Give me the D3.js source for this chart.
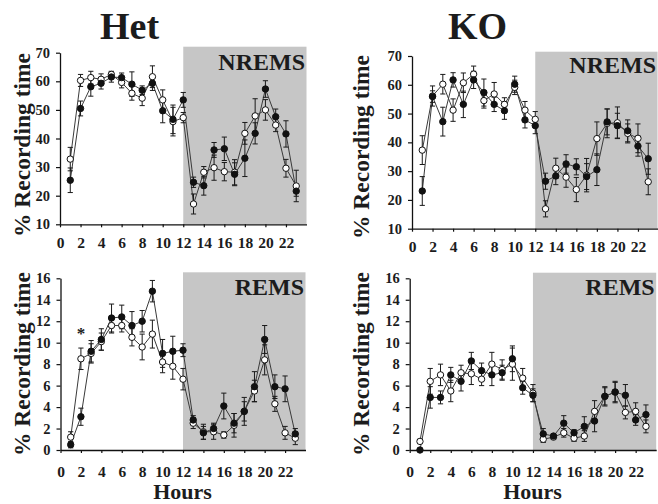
<!DOCTYPE html>
<html>
<head>
<meta charset="utf-8">
<script src="https://cdn.jsdelivr.net/npm/d3@7/dist/d3.min.js"></script>
<style>
  html, body { margin: 0; padding: 0; background: #fff; }
  svg { display: block; }
  text { font-family: "Liberation Serif", "Times New Roman", serif; font-weight: bold; fill: #1c1c1c; }
</style>
</head>
<body>
<svg id="chart" width="658" height="504"></svg>
<script>
// Hour of day (x categories) and axis tick labels
const hours = [1, 2, 3, 4, 5, 6, 7, 8, 9, 10, 11, 12, 13, 14, 15, 16, 17, 18, 19, 20, 21, 22, 23];
const hourTicks = [0, 2, 4, 6, 8, 10, 12, 14, 16, 18, 20, 22];
const nremsTicks = [10, 20, 30, 40, 50, 60, 70];
const remsTicks = [0, 2, 4, 6, 8, 10, 12, 14, 16];

// Het – NREMS (% recording time, mean and SEM)
const hetNremsFilled    = [25.4, 50.5, 58.1, 59.3, 61.5, 61.3, 59.0, 56.9, 59.3, 49.7, 46.7, 53.5, 24.7, 23.5, 36.0, 36.4, 27.5, 33.1, 41.8, 57.3, 47.6, 41.6, 21.6];
const hetNremsFilledErr = [4.3, 2.6, 3.3, 2.0, 1.8, 1.6, 4.3, 1.5, 2.5, 4.2, 5.0, 2.6, 1.8, 3.3, 2.6, 4.1, 4.0, 6.4, 3.7, 2.9, 2.7, 4.6, 1.8];
const hetNremsOpen      = [32.8, 60.3, 61.3, 60.7, 62.4, 59.6, 55.8, 54.1, 61.6, 53.5, 45.9, 47.3, 17.1, 28.2, 29.8, 28.4, 28.2, 41.8, 47.9, 50.0, 44.7, 29.6, 23.4];
const hetNremsOpenErr   = [4.1, 2.1, 2.2, 1.9, 1.1, 1.9, 2.4, 2.6, 3.8, 3.5, 5.0, 1.8, 3.5, 2.0, 4.4, 3.2, 4.4, 3.8, 6.0, 3.6, 2.3, 3.1, 5.5];

// KO – NREMS
const koNremsFilled    = [23.1, 55.9, 47.2, 61.7, 53.2, 61.7, 57.3, 53.2, 51.0, 60.2, 47.8, 45.8, 26.5, 28.3, 32.5, 31.5, 28.1, 30.5, 47.1, 45.8, 44.0, 38.7, 34.3];
const koNremsFilledErr = [5.0, 2.0, 5.0, 2.5, 4.6, 3.0, 4.7, 2.5, 3.0, 2.8, 2.8, 2.8, 2.8, 3.0, 3.2, 2.8, 4.5, 5.5, 4.5, 4.3, 3.8, 3.5, 5.4];
const koNremsOpen      = [37.3, 56.1, 60.2, 51.2, 60.7, 63.7, 54.5, 56.8, 53.2, 59.1, 51.2, 48.0, 16.9, 31.0, 27.9, 23.6, 28.6, 41.3, 46.6, 46.8, 43.1, 41.4, 26.3];
const koNremsOpenErr   = [5.0, 3.5, 3.4, 3.9, 3.4, 2.8, 2.6, 4.0, 2.3, 2.5, 3.0, 2.7, 2.8, 3.5, 3.5, 4.2, 5.8, 5.8, 5.0, 5.5, 3.3, 5.0, 4.5];

// Het – REMS
const hetRemsFilled    = [0.5, 3.1, 9.2, 10.3, 12.3, 12.4, 11.6, 12.0, 14.8, 9.0, 9.2, 9.3, 2.8, 1.6, 2.0, 4.1, 2.5, 3.6, 5.9, 10.3, 5.9, 5.7, 1.5];
const hetRemsFilledErr = [0.3, 0.8, 1.0, 1.0, 1.3, 1.1, 1.3, 1.0, 1.0, 1.3, 1.4, 0.6, 0.4, 0.6, 0.5, 1.2, 0.9, 1.3, 1.4, 1.3, 1.1, 1.2, 0.5];
const hetRemsOpen      = [1.2, 8.5, 9.0, 10.1, 11.6, 11.6, 10.5, 9.6, 10.8, 8.2, 7.8, 6.6, 2.5, 1.7, 1.7, 1.4, 2.3, 3.6, 5.5, 8.4, 4.3, 1.6, 1.1];
const hetRemsOpenErr   = [0.5, 1.0, 0.9, 0.8, 0.7, 0.6, 0.8, 1.2, 1.3, 1.0, 1.2, 1.0, 0.5, 0.7, 0.7, 0.3, 1.1, 0.9, 1.0, 1.4, 0.7, 0.6, 0.6];

// KO – REMS
const koRemsFilled    = [0.0, 4.9, 4.9, 7.0, 6.4, 8.3, 7.4, 7.0, 7.2, 8.5, 5.8, 5.1, 1.5, 1.3, 2.5, 1.6, 2.2, 2.7, 5.0, 5.4, 5.1, 2.8, 3.3];
const koRemsFilledErr = [0.1, 1.0, 0.6, 0.7, 0.9, 0.8, 0.7, 1.0, 0.7, 1.2, 0.6, 0.6, 0.5, 0.2, 0.7, 0.3, 0.9, 1.0, 0.9, 1.0, 1.0, 0.5, 0.9];
const koRemsOpen      = [0.8, 6.4, 7.0, 5.5, 7.2, 7.1, 6.6, 8.0, 7.5, 8.0, 6.7, 5.3, 1.0, 1.2, 1.6, 1.1, 1.3, 3.6, 5.0, 5.4, 3.5, 3.6, 2.2];
const koRemsOpenErr   = [0.2, 1.2, 1.0, 1.0, 0.7, 1.0, 0.6, 1.1, 0.9, 1.5, 0.9, 0.8, 0.3, 0.2, 0.4, 0.3, 0.5, 1.0, 0.8, 0.9, 0.6, 0.8, 0.6];

const svg = d3.select("#chart");
const FONT = '"Liberation Serif", "Times New Roman", serif';

// Panel geometry
const panels = [
  { x0: 60,    x1: 306.5, yTop: 52.7,  yBot: 224.3, grayTop: 46.7,  domain: [10, 70], ticks: nremsTicks,
    filled: hetNremsFilled, filledErr: hetNremsFilledErr, open: hetNremsOpen, openErr: hetNremsOpenErr,
    state: "NREMS", stateBase: 69.5, xPad: 9.5, yLabelX: 30, yLabelY: 145 },
  { x0: 412,   x1: 658.5, yTop: 56,    yBot: 228.7, grayTop: 51.7,  domain: [10, 70], ticks: nremsTicks,
    filled: koNremsFilled, filledErr: koNremsFilledErr, open: koNremsOpen, openErr: koNremsOpenErr,
    state: "NREMS", stateBase: 73.3, xPad: 9.5, yLabelX: 369, yLabelY: 147 },
  { x0: 60.5,  x1: 305.5, yTop: 278.3, yBot: 450,   grayTop: 272.3, domain: [0, 16], ticks: remsTicks,
    filled: hetRemsFilled, filledErr: hetRemsFilledErr, open: hetRemsOpen, openErr: hetRemsOpenErr,
    state: "REMS", stateBase: 295.3, xPad: 12.5, yLabelX: 30, yLabelY: 364 },
  { x0: 409.7, x1: 656.2, yTop: 278.3, yBot: 450,   grayTop: 272.7, domain: [0, 16], ticks: remsTicks,
    filled: koRemsFilled, filledErr: koRemsFilledErr, open: koRemsOpen, openErr: koRemsOpenErr,
    state: "REMS", stateBase: 295.3, xPad: 12.5, yLabelX: 369, yLabelY: 364 }
];

panels.forEach(p => {
  const x = d3.scaleLinear().domain([0, 24]).range([p.x0, p.x1]);
  const y = d3.scaleLinear().domain(p.domain).range([p.yBot, p.yTop]);
  const g = svg.append("g");

  // Dark phase shading (hours 12-24)
  g.append("rect")
    .attr("x", x(12)).attr("y", p.grayTop)
    .attr("width", Math.min(x(24), 657.5) - x(12))
    .attr("height", p.yBot - p.grayTop)
    .attr("fill", "#c6c6c6");

  g.append("text")
    .attr("x", Math.min(x(24), 657.5) - 1.5).attr("y", p.stateBase)
    .attr("text-anchor", "end")
    .style("font-size", "24px")
    .text(p.state);

  const series = [
    { v: p.open, e: p.openErr, fill: "#fff" },
    { v: p.filled, e: p.filledErr, fill: "#111" }
  ];

  // Connecting lines
  series.forEach(s => {
    const line = d3.line().x((d, i) => x(hours[i])).y(d => y(d));
    g.append("path").datum(s.v)
      .attr("d", line)
      .attr("fill", "none")
      .attr("stroke", "#3a3a3a")
      .attr("stroke-width", 1);
  });

  // Error bars
  series.forEach(s => {
    const eb = g.append("g").attr("stroke", "#1a1a1a").attr("stroke-width", 1).attr("fill", "none");
    s.v.forEach((d, i) => {
      const cx = x(hours[i]);
      const lo = y(Math.max(p.domain[0], d - s.e[i]));
      const hi = y(d + s.e[i]);
      eb.append("line").attr("x1", cx).attr("x2", cx).attr("y1", lo).attr("y2", hi);
      eb.append("line").attr("x1", cx - 2.6).attr("x2", cx + 2.6).attr("y1", hi).attr("y2", hi);
      eb.append("line").attr("x1", cx - 2.6).attr("x2", cx + 2.6).attr("y1", lo).attr("y2", lo);
    });
  });

  // Markers
  series.forEach(s => {
    g.append("g").selectAll("circle").data(s.v).join("circle")
      .attr("cx", (d, i) => x(hours[i]))
      .attr("cy", d => y(d))
      .attr("r", 3.2)
      .attr("fill", s.fill)
      .attr("stroke", "#111")
      .attr("stroke-width", 1);
  });

  // Axes
  const ya = g.append("g").attr("transform", `translate(${p.x0},0)`)
    .call(d3.axisLeft(y).tickValues(p.ticks).tickSize(4).tickSizeOuter(0).tickPadding(6));
  ya.selectAll("text").style("font-family", FONT).style("font-weight", "bold")
    .style("font-size", "14.5px").attr("fill", "#1c1c1c");

  const xa = g.append("g").attr("transform", `translate(0,${p.yBot})`)
    .call(d3.axisBottom(x).tickValues(hourTicks).tickSize(3).tickSizeOuter(0).tickPadding(p.xPad));
  xa.selectAll("text").style("font-family", FONT).style("font-weight", "bold")
    .style("font-size", "15.5px").attr("fill", "#1c1c1c");

  [ya, xa].forEach(a => {
    a.select(".domain").attr("stroke", "#111").attr("stroke-width", 1.3);
    a.selectAll(".tick line").attr("stroke", "#111").attr("stroke-width", 1.2);
  });

  // Y axis title
  svg.append("text")
    .attr("transform", `translate(${p.yLabelX},${p.yLabelY}) rotate(-90)`)
    .attr("text-anchor", "middle")
    .style("font-size", "23.5px")
    .text("% Recording time");
});

// Column titles
svg.append("text").attr("x", 129.5).attr("y", 39).attr("text-anchor", "middle")
  .style("font-size", "38px").text("Het");
svg.append("text").attr("x", 477.5).attr("y", 39).attr("text-anchor", "middle")
  .style("font-size", "38px").text("KO");

// X axis titles
svg.append("text").attr("x", 182.5).attr("y", 498.5).attr("text-anchor", "middle")
  .style("font-size", "22px").text("Hours");
svg.append("text").attr("x", 532.5).attr("y", 498.5).attr("text-anchor", "middle")
  .style("font-size", "22px").text("Hours");

// Significance mark (Het REMS, hour 2)
svg.append("text").attr("x", 81).attr("y", 339).attr("text-anchor", "middle")
  .style("font-size", "17px").text("*");
</script>
</body>
</html>
